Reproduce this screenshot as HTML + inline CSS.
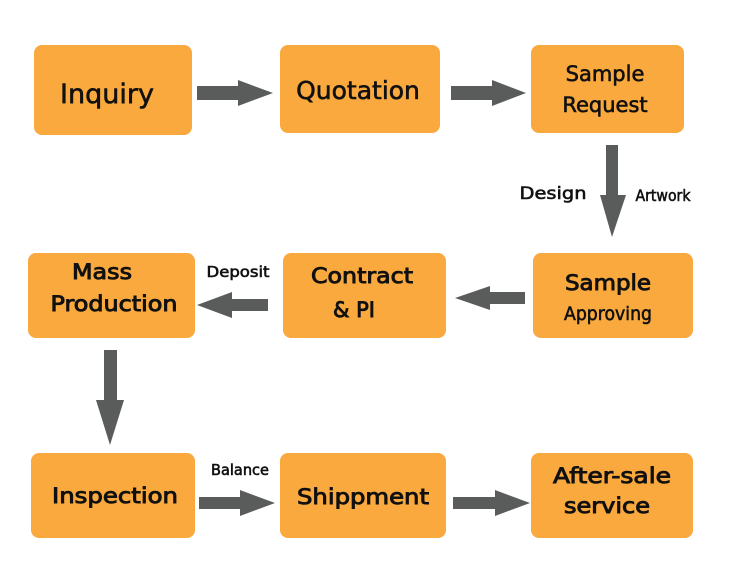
<!DOCTYPE html>
<html><head><style>
html,body{margin:0;padding:0;background:#fff;width:750px;height:580px;overflow:hidden}
text{font-family:"DejaVu Sans","Liberation Sans",sans-serif;fill:#111;stroke:#111;stroke-width:0.6;font-weight:normal}
text.b{stroke-width:0.9}
</style></head><body>
<svg width="750" height="580" xmlns="http://www.w3.org/2000/svg">
<g fill="#F9A93D">
<rect x="34" y="45" width="158" height="90" rx="8"/>
<rect x="280" y="45" width="160" height="88" rx="8"/>
<rect x="531" y="45" width="153" height="88" rx="8"/>
<rect x="28" y="253" width="167" height="85" rx="8"/>
<rect x="283" y="253" width="163" height="85" rx="8"/>
<rect x="533" y="253" width="160" height="85" rx="8"/>
<rect x="31" y="453" width="164" height="85" rx="8"/>
<rect x="280" y="453" width="166" height="85" rx="8"/>
<rect x="531" y="453" width="162" height="85" rx="8"/>
</g>
<g fill="#5a5c5c">
<polygon points="197,86 238,86 238,80 273,93 238,106 238,100 197,100"/>
<polygon points="451,86 492,86 492,80 526,93 492,106 492,100 451,100"/>
<polygon points="606,145 618,145 618,195 626,195 612,237 600,195 606,195"/>
<polygon points="525,292 490,292 490,286 455,298 490,310 490,304 525,304"/>
<polygon points="268,299 232,299 232,292 197,305 232,318 232,311 268,311"/>
<polygon points="104,350 117,350 117,400 124,400 110,445 96,400 104,400"/>
<polygon points="199,497 240,497 240,490 275,503 240,516 240,509 199,509"/>
<polygon points="453,497 495,497 495,490 530,503 495,516 495,509 453,509"/>
</g>
<g text-anchor="middle">
<text x="107" y="103" font-size="27">Inquiry</text>
<text x="358" y="99" font-size="25">Quotation</text>
<text x="605" y="81" font-size="21">Sample</text>
<text x="605" y="112" font-size="21">Request</text>
<text class="b" x="102" y="279" font-size="21" textLength="60" lengthAdjust="spacingAndGlyphs">Mass</text>
<text class="b" x="114" y="311" font-size="21" textLength="127" lengthAdjust="spacingAndGlyphs">Production</text>
<text class="b" x="362" y="283" font-size="21" textLength="102" lengthAdjust="spacingAndGlyphs">Contract</text>
<text class="b" x="354" y="317" font-size="21">&amp; PI</text>
<text class="b" x="608" y="290" font-size="21" textLength="86" lengthAdjust="spacingAndGlyphs">Sample</text>
<text x="608" y="320" font-size="19" textLength="88" lengthAdjust="spacingAndGlyphs">Approving</text>
<text class="b" x="115" y="503" font-size="21" textLength="126" lengthAdjust="spacingAndGlyphs">Inspection</text>
<text class="b" x="363" y="504" font-size="21" textLength="132" lengthAdjust="spacingAndGlyphs">Shippment</text>
<text class="b" x="612" y="483" font-size="21" textLength="118" lengthAdjust="spacingAndGlyphs">After-sale</text>
<text class="b" x="607" y="513" font-size="21" textLength="86" lengthAdjust="spacingAndGlyphs">service</text>
<text x="553" y="199" font-size="17" textLength="67" lengthAdjust="spacingAndGlyphs">Design</text>
<text x="663" y="201" font-size="16" textLength="55" lengthAdjust="spacingAndGlyphs">Artwork</text>
<text x="238" y="277" font-size="15" textLength="63" lengthAdjust="spacingAndGlyphs">Deposit</text>
<text x="240" y="475" font-size="15" textLength="58" lengthAdjust="spacingAndGlyphs">Balance</text>
</g>
</svg>
</body></html>
